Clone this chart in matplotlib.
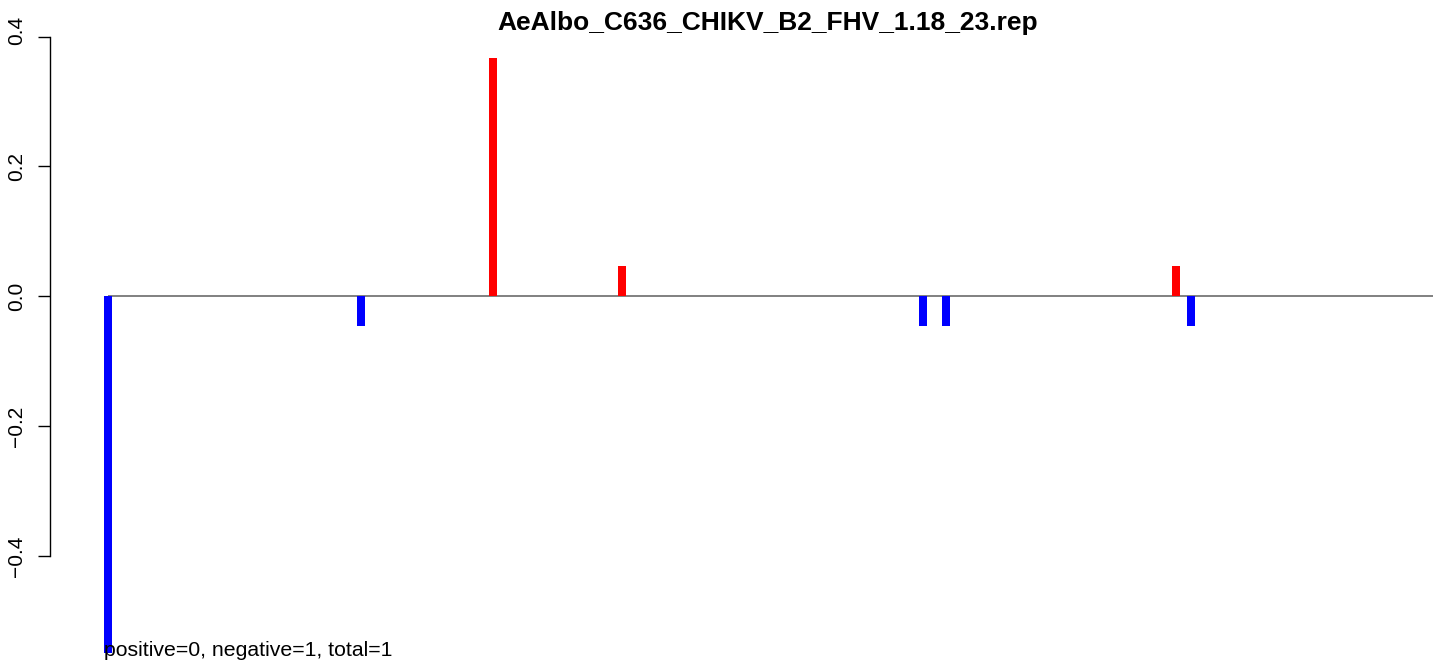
import matplotlib
matplotlib.use('Agg')
import matplotlib.pyplot as plt
import matplotlib.transforms as mtransforms

plt.rcParams['font.family'] = ['Liberation Sans', 'DejaVu Sans']

# 데이터
title = 'AeAlbo_C636_CHIKV_B2_FHV_1.18_23.rep'
positions = [0, 253, 385, 514, 815, 838, 1068, 1083]
values = [-0.55, -0.046, 0.367, 0.046, -0.046, -0.046, 0.046, -0.046]
genome_end = 1330
summary = 'positive=0, negative=1, total=1'
yticks = [-0.4, -0.2, 0.0, 0.2, 0.4]

W, H = 1433, 661
fig = plt.figure(figsize=(W / 100, H / 100), dpi=100)
ax = fig.add_axes([50 / W, 0, 1 - 50 / W, 627 / H])

colors = ['red' if v > 0 else 'blue' for v in values]
ax.hlines(0, positions[0], genome_end, color='#808080', lw=1.4, zorder=1)
ax.bar(positions, values, width=8, color=colors, zorder=2)

ax.set_xlim(-57.5, 1325.5)
ax.set_ylim(-0.562, 0.404)

for s in ['top', 'right', 'bottom']:
    ax.spines[s].set_visible(False)
ax.spines['left'].set_bounds(-0.4, 0.4)
ax.spines['left'].set_linewidth(1.0)
ax.set_xticks([])
ax.set_yticks(yticks)
ax.set_yticklabels([f'{t:.1f}'.replace('-', '\u2212') for t in yticks],
                   rotation=90, va='center', fontsize=15)
ax.tick_params(axis='y', length=8.5, width=1.0, pad=8.5)

# 맨 위 눈금 라벨은 그림 위쪽으로 약간 올라가 있음
top_label = ax.get_yticklabels()[-1]
top_label.set_transform(top_label.get_transform() +
                        mtransforms.ScaledTranslation(0, 6 / 100, fig.dpi_scale_trans))

# 요약 텍스트 (가장 작은 값 위치에 기준선, 약간 아래로)
shift = mtransforms.ScaledTranslation(-4 / 100, -3 / 100, fig.dpi_scale_trans)
ax.text(positions[0], min(values), summary, ha='left', va='baseline',
        fontsize=15.3, transform=ax.transData + shift)
fig.text(768 / W, 1 - 30 / H, title, ha='center', va='baseline',
         fontsize=19, fontweight='bold')

fig.savefig('out.png', dpi=100)
